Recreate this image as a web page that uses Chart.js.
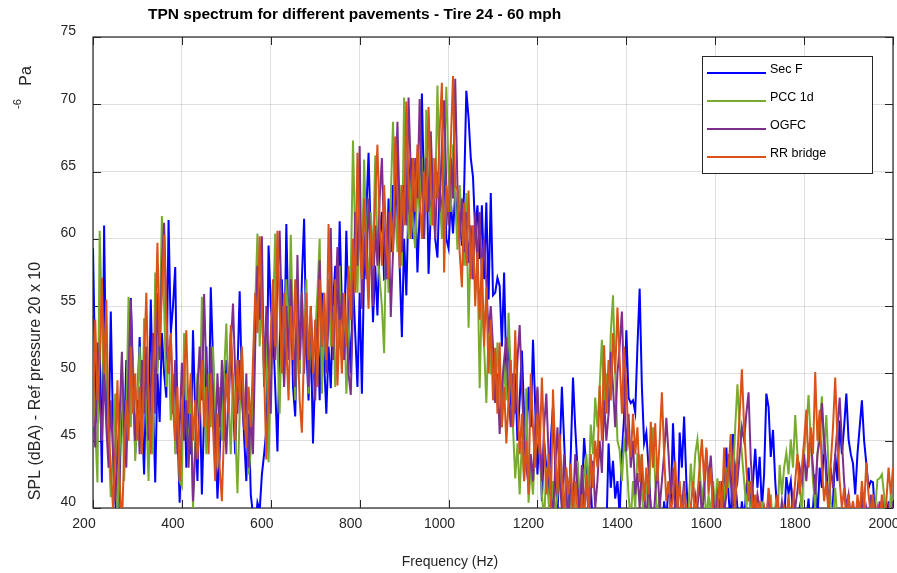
<!DOCTYPE html>
<html>
<head>
<meta charset="utf-8">
<title>TPN spectrum</title>
<script src="https://cdn.jsdelivr.net/npm/chart.js@4/dist/chart.umd.min.js"></script>
<style>
  html, body { margin: 0; padding: 0; background: #ffffff; }
  canvas { display: block; }
</style>
</head>
<body>
<canvas id="tpn" width="897" height="573" style="width:897px;height:573px"></canvas>
<script>
// Narrowband frequency bins (Hz)
const freqHz = [
  200,205,210,215,220,225,230,235,240,245,250,255,260,265,270,275,280,285,290,295,
  300,305,310,315,320,325,330,335,340,345,350,355,360,365,370,375,380,385,390,395,
  400,405,410,415,420,425,430,435,440,445,450,455,460,465,470,475,480,485,490,495,
  500,505,510,515,520,525,530,535,540,545,550,555,560,565,570,575,580,585,590,595,
  600,605,610,615,620,625,630,635,640,645,650,655,660,665,670,675,680,685,690,695,
  700,705,710,715,720,725,730,735,740,745,750,755,760,765,770,775,780,785,790,795,
  800,805,810,815,820,825,830,835,840,845,850,855,860,865,870,875,880,885,890,895,
  900,905,910,915,920,925,930,935,940,945,950,955,960,965,970,975,980,985,990,995,
  1000,1005,1010,1015,1020,1025,1030,1035,1040,1045,1050,1055,1060,1065,1070,1075,1080,1085,1090,1095,
  1100,1105,1110,1115,1120,1125,1130,1135,1140,1145,1150,1155,1160,1165,1170,1175,1180,1185,1190,1195,
  1200,1205,1210,1215,1220,1225,1230,1235,1240,1245,1250,1255,1260,1265,1270,1275,1280,1285,1290,1295,
  1300,1305,1310,1315,1320,1325,1330,1335,1340,1345,1350,1355,1360,1365,1370,1375,1380,1385,1390,1395,
  1400,1405,1410,1415,1420,1425,1430,1435,1440,1445,1450,1455,1460,1465,1470,1475,1480,1485,1490,1495,
  1500,1505,1510,1515,1520,1525,1530,1535,1540,1545,1550,1555,1560,1565,1570,1575,1580,1585,1590,1595,
  1600,1605,1610,1615,1620,1625,1630,1635,1640,1645,1650,1655,1660,1665,1670,1675,1680,1685,1690,1695,
  1700,1705,1710,1715,1720,1725,1730,1735,1740,1745,1750,1755,1760,1765,1770,1775,1780,1785,1790,1795,
  1800,1805,1810,1815,1820,1825,1830,1835,1840,1845,1850,1855,1860,1865,1870,1875,1880,1885,1890,1895,
  1900,1905,1910,1915,1920,1925,1930,1935,1940,1945,1950,1955,1960,1965,1970,1975,1980,1985,1990,1995,2000
];

// SPL (dBA) per bin, one array per pavement
const secF = [
  59.3,50,46.3,52,41.9,61.0,48,44,54.6,46,40.6,38,42,49,45,51,47,55.6,50,44,
  48,52.7,47,42.5,50,46,55.5,48,41.9,50,46.4,53,50,48.2,61.4,53,55,57.9,46,40.4,
  46,50,43,48,44,53.2,47,42,49,41,47,52,45,56.4,51.1,46,40.7,44,49.7,45,
  51,47,53,48,44,50,56.1,49,45.3,42,47,41,39.5,38.5,40.4,39.8,42.5,44,45.8,59.5,
  55,53.4,49,44.2,52,57,50,61.1,53,57,49,46.8,54,50,57,61.5,52,48,53,44.8,
  50,54,48,56,51,47,52,48.9,55,58,53,61.3,55,52,60.6,54,50,57,53,49,
  56,48.5,58,62,66.4,60,53.8,58,54.3,60,62,57,57.1,63,59,64,61,66,58,52.7,
  60,55.8,63,66,60,64,57.5,62,70.8,63,67,57.4,62,66,60,58.6,64,61,66,60,
  59.3,62.9,60.4,63.5,60.5,62,59.5,63.6,71.0,69.0,66,64.6,60.5,62.5,58.5,62.5,57,62.7,55.5,63.4,
  55.8,56,57.1,56.5,52,57.5,50,52.5,48,46,50,45,48,51.7,47,44.8,49,46,52.5,47.5,
  42.5,46,40.5,45,43,41,45,47.6,43,39.5,44,49.0,45,41,39.5,44,49.7,46,43,40,
  41,45.2,43,39.5,41.5,38.5,40,38,39,37.5,39,38,44.8,41.5,43.5,40.7,42,39.5,44,46.8,
  53.2,48.2,47.8,48.0,47.1,52,56.3,49,44.8,45.6,43,40,38,39,37.5,39,38,40.5,39,41.9,
  40,46.3,42,38.5,45.6,43,46.8,42,39,38,37,38.5,37.5,39,38,37,39.5,38,37.5,39,
  38,39.5,37,38.5,40.5,44.5,41,38.5,45.5,42,40,38.5,40.5,39,41.5,43,40,42,44.4,41.5,
  43.8,40,42.5,48.5,47.5,43.8,45.8,42,39.5,38,40,39,42.3,41.1,42,39.5,38.5,39,40,38.5,
  37.5,39,40.7,38,40,42.5,39,43,41.5,45.3,43,40,38.5,40.5,44,42,46.5,44,46,48.5,
  45.1,44,43.3,41,44,46,48.0,45,43.3,41.5,42,41.9,39,38,39.5,38,40.2,39,40.5,38.5,39.5
];
const pcc1d = [
  50.5,46,41.9,60.6,54,48,52,45,40.8,44,48.5,39.5,44,50.8,42,47,55.7,46,51,43.5,
  48,52,44,54.1,47,42,49,44,57.5,50,53,61.7,55,49,52,46.5,50,44,47,42,
  41.6,53,47,44,49,40,45,50,47,55.7,49,44,50,46,52,47,43,49,45,50,
  53.7,48,44,50,46,41.1,47,52,46,49,42.5,44.2,48,55,60.4,52,56,49,53,43.4,
  50,54,60.4,52,47,55,49,57,52,60.3,53,48,55,50,56,52,57,48.5,53,51,
  53,56,60,48.5,54,50,57,52,55,49,53,58,51,55,48.5,52,57,67.3,60,56,
  62,57,65.9,60,56,62,58,66.2,59,57,55,51.5,61,56,63,68.7,62,59,64,58,
  70.5,63,60,65,61,59.3,64,62,66,60,69.6,63,61,66,63,71.4,64,60,66,71.3,
  65,62,67,63,59.2,64,61,58,63.4,53.4,60,57,61,58.5,48.9,56,52,47.8,53,50,
  50,47.8,52.3,49,46,51,48,54.5,50,46,42.2,44.8,41,45,42,48.9,40.4,43,41,45,
  48.8,44,41,39,43,40.5,38.5,42,39.5,41,44,40,38,42,39,41.5,38.5,40,43.5,41,
  40,42.5,44,41.5,46.2,44,48.2,46,49,52.5,48,50,47,53,55.8,50,45,44.3,42,45,
  43.9,41,39,42,40,44,43.9,41,39,42.5,40,44,46,42,39,41,38.5,40,38,39.5,
  38,40,37.5,39,38,41,39,38,40,43.3,41,44,45.1,43,40.5,42,39,41,39.5,42,
  40,42.2,39,38,40.5,43,41.5,44,42,46,49.2,46,44,42,40,42,39,41,38.5,40,
  39,40.5,38,37.5,39,41,38.5,40,39,43.2,41,43,44.1,42.5,45.1,43,46.9,44,42,39.5,
  44,46,48.4,45,42,40,44,46,48.3,44,46.9,43,40.5,39,41.5,39,38,40,38.5,39,
  41,38.5,40,39,38,40.5,39,41,38,39.5,40,38.5,40,42.1,42.2,42.5,41,39,38.5,41,40
];
const ogfc = [
  47,44.5,52.3,48,45,50,46,43,48,44,40.5,44,47,51.6,46,43,50,55.5,49,45,
  48,44,51,47,52,45,49,53,47,56,51,58,61.2,55,50,53,47,51,44,46,
  50.8,45,48,43,47,40.5,44,49,52,48,55.9,50,46,52,48,44,50,46,51,48,
  44,49,52,55.2,50,47,51,48,45.8,50,43,47,44,52,58,54,60.2,49,55,51,
  47,55,51,57,60.6,54,49,55,51,57,53,49,58.8,51,56,50,54,49,55,51,
  48,53,58.4,52,56,50,54,60.8,51,55,59.4,53,56,51,54,50,48.4,55,62,58,
  66.9,54.8,60,57,63,59,55,61,58,63,66,60,57,62,54.2,59,63,68.7,62,59,
  64,61,70.5,65,62,66,63,70.4,64,60,66,62,68,63,60,65,62,67,70.3,64,
  61,66,63,71.9,64,60,63,59,62,58.2,61,57,62,58,62,57,60,56.7,53,55,
  52,47.8,50,45.5,49,51,52.7,48,46,50,47,51,53.6,49,45,43,41.7,44,42,46,
  49,45,42,46,48.5,44,41,39.5,43,46,42,40,44,41,39,42.5,40,44,41.5,39.5,
  43.2,40,42,39.5,41,43.5,40,42,45,42.6,48,45,47,51.6,49,46,50,52,54.6,49,
  44.2,47,43,45,41,42.6,40,43,41,39,42,40,38.5,41,43,40,42,44,46.7,44,
  41,43,39.5,41,38.5,40,42,39,38,40,39,41,40,42,39.5,41,44.3,42,43.9,41,
  39,41,40,42,39.5,41,44,42,40,43,42,44,46,45,47,48.6,43.6,41,39.5,41,
  40,38.5,40,39,41,39.5,38,40,38.5,39,40.5,39,38,40,39,41,40,41.3,43,42,
  44,42,44.5,45.2,43,41,44,45,47.8,45,42,40,43,41.5,44,46,48.2,45,42,40,
  41,39,40.5,38.5,40,39,41,38.5,40,39,41,38.5,40,39,40.5,38,39.5,38.5,40,39,40.5
];
const rrBridge = [
  46,54,48,51,57.1,50,55.5,46,43,40,44,49.5,42,38.5,44,48,45,52,47,50,
  45,49,44,51,56,48,44,50,53,59.7,52,56,60.3,54,50,53,47.4,45,49,42,
  46,50,53.2,47,50,45,48,43.6,47,51,46,49,44,50,46,42,47,43,40.5,46,
  50,47,53.6,49,45,51,48,52,47,44.5,49,46,51,56,53,60.2,55,50,43.6,49,
  53,57,52,60.6,55,50,56,52,48,55,51,57,53,48,45.6,52,56,51,55,50,
  54,49,57,52,56,51,61.1,55,52,57,49.1,54,50,56,52,58,54,60,56,66.4,
  60,57,63,59,54.8,61,58,63,67,61,58,64,60,57,62,59,67.6,63,57.8,64,
  61,70.2,64,60,66,62,67,63,60,65,62,69.8,64,61,66,63,68,71.6,57.5,64,
  62,67,72.1,64,63.6,59,56.4,62.7,58,63.6,57,61,55,59,54,58.6,52,56.4,50,54,
  48,51.9,47,52.3,46,49,44.8,48,51,46,53.2,48,44,47,42,45,41,50,46,43,
  47,44,49.7,45,41,44,40,48.8,44,41,45.5,42,39.5,43,41,43.3,39.5,42,40,38.5,
  41,39,42.5,40,44,41.5,45,43,49.1,45,52.1,47,51,48,53,50,54.9,51,47,52,
  49,45,43.8,47,44,46,41.9,44,40.5,43,41,46.4,43,46.3,42,45,48.6,44,40.5,42,
  39.5,41,43.5,40,42,39,41,40,38.5,40,42,39,41,43,45.1,42,44.5,41,43,40,
  38.5,40,42,39.5,44.5,41,43,45.5,42,40,44,47,50.3,46,43,40.5,42,39.5,41,39,
  40.5,38.5,40,39,41.5,40,38,39.5,41,39,38,40,39,41,38.5,40,42,44,41,43,
  45,47.3,43,46,44,50.1,45,47.3,43,40.5,42,39.5,43.3,46,49.7,45,42,40,41.5,39,
  41,39,40.5,38.5,41,39.5,42,40,43.4,41,39.5,41,38.5,40,39,41,38.5,40.5,43,41,43
];

const seriesNames  = ['Sec F', 'PCC 1d', 'OGFC', 'RR bridge'];
const seriesColors = ['#0000FF', '#77AC30', '#7E2F8E', '#D95319'];
const seriesValues = [secF, pcc1d, ogfc, rrBridge];

const xTicks = [200, 400, 600, 800, 1000, 1200, 1400, 1600, 1800, 2000];
const yTicks = [40, 45, 50, 55, 60, 65, 70, 75];

const chartTitle = 'TPN spectrum for different pavements - Tire 24 - 60 mph';
const xTitle = 'Frequency (Hz)';
const yTitle = 'SPL (dBA) - Ref pressure 20 x 10';
const yTitleExp = '-6';
const yTitleUnit = 'Pa';

const FONT = '"Liberation Sans", Arial, Helvetica, sans-serif';
const AXIS_INK = '#262626';

// Box, inward ticks, titles and legend in the MATLAB figure style
const figureDecor = {
  id: 'figureDecor',
  beforeDatasetsDraw(chart) {
    const { ctx, chartArea: a, scales } = chart;
    const sx = scales.x, sy = scales.y;
    ctx.save();
    ctx.strokeStyle = AXIS_INK;
    ctx.lineWidth = 1;
    ctx.beginPath();
    xTicks.forEach(v => {
      const px = Math.round(sx.getPixelForValue(v)) + 0.5;
      ctx.moveTo(px, a.bottom); ctx.lineTo(px, a.bottom - 8);
      ctx.moveTo(px, a.top);    ctx.lineTo(px, a.top + 8);
    });
    yTicks.forEach(v => {
      const py = Math.round(sy.getPixelForValue(v)) + 0.5;
      ctx.moveTo(a.left, py);  ctx.lineTo(a.left + 8, py);
      ctx.moveTo(a.right, py); ctx.lineTo(a.right - 8, py);
    });
    ctx.stroke();
    ctx.lineWidth = 1.2;
    ctx.strokeRect(a.left, a.top, a.right - a.left, a.bottom - a.top);
    ctx.restore();
  },
  afterDraw(chart) {
    const { ctx } = chart;
    ctx.save();

    // title
    ctx.fillStyle = '#000000';
    ctx.font = 'bold 15.5px ' + FONT;
    ctx.textAlign = 'left';
    ctx.textBaseline = 'middle';
    ctx.fillText(chartTitle, 148, 15);

    // x-axis title
    ctx.fillStyle = AXIS_INK;
    ctx.font = '14px ' + FONT;
    ctx.textAlign = 'center';
    ctx.fillText(xTitle, 450, 562);

    // y-axis title with raised exponent
    const rot = (text, x, y, size) => {
      ctx.save();
      ctx.translate(x, y);
      ctx.rotate(-Math.PI / 2);
      ctx.font = size + 'px ' + FONT;
      ctx.textAlign = 'center';
      ctx.textBaseline = 'middle';
      ctx.fillText(text, 0, 0);
      ctx.restore();
    };
    rot(yTitle, 36, 381, 16);
    rot(yTitleExp, 18, 104, 11);
    rot(yTitleUnit, 27, 76, 16);

    // legend
    const lx = 702, ly = 56, lw = 170, lh = 117;
    ctx.fillStyle = '#ffffff';
    ctx.fillRect(lx, ly, lw, lh);
    ctx.strokeStyle = AXIS_INK;
    ctx.lineWidth = 1;
    ctx.strokeRect(lx + 0.5, ly + 0.5, lw, lh);
    ctx.font = '12.5px ' + FONT;
    ctx.textAlign = 'left';
    ctx.textBaseline = 'alphabetic';
    chart.data.datasets.forEach((ds, i) => {
      const yy = 73 + 28 * i;
      ctx.strokeStyle = ds.borderColor;
      ctx.lineWidth = 2;
      ctx.beginPath();
      ctx.moveTo(707, yy);
      ctx.lineTo(766, yy);
      ctx.stroke();
      ctx.fillStyle = '#000000';
      ctx.fillText(ds.label, 770, yy);
    });
    ctx.restore();
  }
};

const datasets = seriesValues.map((vals, i) => ({
  label: seriesNames[i],
  data: freqHz.map((f, k) => ({ x: f, y: vals[k] })),
  borderColor: seriesColors[i],
  backgroundColor: seriesColors[i],
  borderWidth: 2,
  pointRadius: 0,
  tension: 0,
  fill: false,
  clip: 0,
  order: seriesValues.length - i
}));

new Chart(document.getElementById('tpn'), {
  type: 'line',
  data: { datasets },
  options: {
    responsive: false,
    animation: false,
    devicePixelRatio: 1,
    events: [],
    layout: { padding: { left: 0, right: 4, top: 37, bottom: 0 } },
    plugins: {
      legend: { display: false },
      title: { display: false },
      tooltip: { enabled: false }
    },
    scales: {
      x: {
        type: 'linear',
        min: xTicks[0],
        max: xTicks[xTicks.length - 1],
        afterBuildTicks: s => { s.ticks = xTicks.map(v => ({ value: v })); },
        afterFit: s => { s.height = 65; s.paddingLeft = 0; s.paddingRight = 0; },
        ticks: {
          color: AXIS_INK,
          font: { family: FONT, size: 14 },
          padding: 8,
          labelOffset: -9,
          maxRotation: 0,
          autoSkip: false,
          callback: v => String(v)
        },
        grid: { color: 'rgba(38,38,38,0.15)', lineWidth: 1, drawTicks: false },
        border: { display: false }
      },
      y: {
        type: 'linear',
        min: yTicks[0],
        max: yTicks[yTicks.length - 1],
        afterBuildTicks: s => { s.ticks = yTicks.map(v => ({ value: v })); },
        afterFit: s => { s.width = 93; s.paddingTop = 0; s.paddingBottom = 0; },
        ticks: {
          color: AXIS_INK,
          font: { family: FONT, size: 14 },
          padding: 17,
          labelOffset: -5.5,
          autoSkip: false,
          callback: v => String(v)
        },
        grid: { color: 'rgba(38,38,38,0.15)', lineWidth: 1, drawTicks: false },
        border: { display: false }
      }
    }
  },
  plugins: [figureDecor]
});
</script>
</body>
</html>
